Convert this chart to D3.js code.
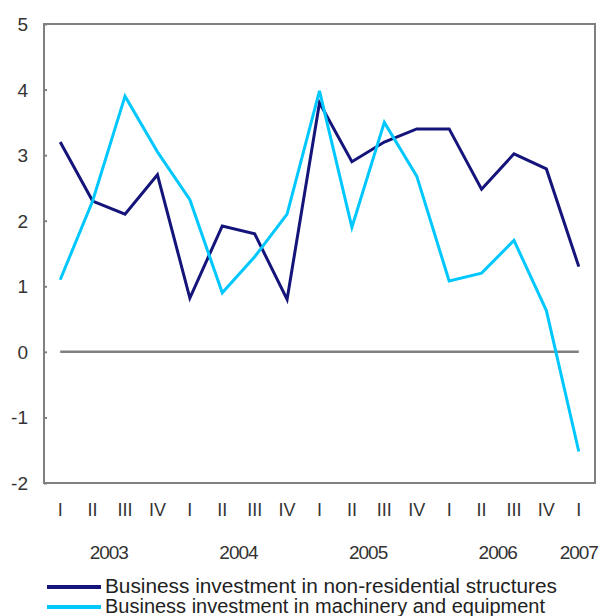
<!DOCTYPE html>
<html><head><meta charset="utf-8">
<script src="https://cdn.jsdelivr.net/npm/d3@7"></script>
<style>body{margin:0;background:#fff}</style>
</head><body><svg id="c" width="603" height="616"></svg>
<script>
const quarters = ["I","II","III","IV","I","II","III","IV","I","II","III","IV","I","II","III","IV","I"];
const years = [{label:"2003", at:1.5},{label:"2004", at:5.5},{label:"2005", at:9.5},{label:"2006", at:13.5},{label:"2007", at:16}];
const structures = [3.2,2.3,2.1,2.7,0.82,1.92,1.8,0.8,3.8,2.9,3.2,3.4,3.4,2.48,3.02,2.79,1.3];
const machinery = [1.1,2.3,3.9,3.05,2.32,0.9,1.45,2.1,3.98,1.9,3.5,2.68,1.08,1.2,1.7,0.63,-1.52];
const yTicks = [-2,-1,0,1,2,3,4,5];
const seriesNames = ["Business investment in non-residential structures","Business investment in machinery and equipment"];
const colors = ["#14147a","#00c8ff"];

const svg = d3.select("#c");
const L=44, R=595, T=24, B=483;
const x = d3.scalePoint().domain(d3.range(quarters.length)).range([L,R]).padding(0.5);
const y = d3.scaleLinear().domain([-2,5]).range([B,T]);
const font = "'Liberation Sans', Arial, sans-serif";
const gray = "#808080";

// frame
svg.append("rect").attr("x",L).attr("y",T).attr("width",R-L).attr("height",B-T)
  .attr("fill","none").attr("stroke",gray).attr("stroke-width",2);

// y axis
const ya = svg.append("g").attr("transform",`translate(${L},0)`)
  .call(d3.axisRight(y).tickValues(yTicks).tickSize(3).tickFormat(""));
ya.select(".domain").remove();
ya.selectAll("line").attr("stroke",gray).attr("stroke-width",2);
svg.append("g").selectAll("text").data(yTicks).join("text")
  .attr("x",28).attr("y",d=>y(d)+7).attr("text-anchor","end")
  .attr("font-family",font).attr("font-size",19).attr("fill","#333").text(d=>d);

// zero line
svg.append("line").attr("x1",x(0)).attr("x2",x(quarters.length-1))
  .attr("y1",y(0)).attr("y2",y(0)).attr("stroke",gray).attr("stroke-width",2.5);

// x labels
svg.append("g").selectAll("text").data(quarters).join("text")
  .attr("x",(d,i)=>x(i)).attr("y",516).attr("text-anchor","middle")
  .attr("font-family",font).attr("font-size",18).attr("fill","#333").text(d=>d);
svg.append("g").selectAll("text").data(years).join("text")
  .attr("x",d=>x(0)+(x(1)-x(0))*d.at).attr("y",559).attr("text-anchor","middle")
  .attr("font-family",font).attr("font-size",19).attr("letter-spacing",-1).attr("fill","#333").text(d=>d.label);

// lines
const line = d3.line().x((d,i)=>x(i)).y(d=>y(d));
[structures, machinery].forEach((s,k)=>{
  svg.append("path").datum(s).attr("d",line).attr("fill","none")
    .attr("stroke",colors[k]).attr("stroke-width",3).attr("stroke-linejoin","miter");
});

// legend
const lg = svg.append("g");
const lenW = [452, 440];
seriesNames.forEach((n,k)=>{
  const yy = 587 + k*20;
  lg.append("line").attr("x1",47).attr("x2",101).attr("y1",yy).attr("y2",yy)
    .attr("stroke",colors[k]).attr("stroke-width",4);
  lg.append("text").attr("x",105).attr("y",yy+6).attr("font-family",font)
    .attr("font-size",20).attr("fill","#222").attr("textLength",lenW[k])
    .attr("lengthAdjust","spacingAndGlyphs").text(n);
});
</script></body></html>
